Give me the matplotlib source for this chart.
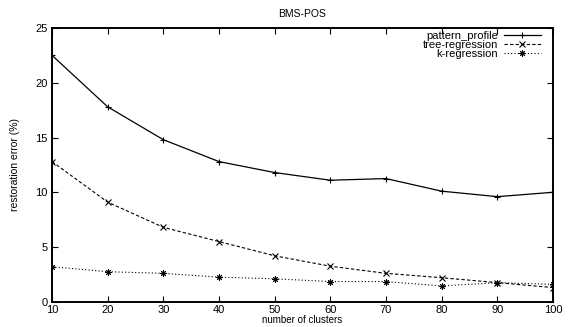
import matplotlib
matplotlib.use("Agg")
import matplotlib.pyplot as plt

plt.rcParams['font.family'] = ['Liberation Sans', 'DejaVu Sans']

# restoration error per number of clusters on BMS-POS
clusters = [10, 20, 30, 40, 50, 60, 70, 80, 90, 100]
pattern_profile = [22.5, 17.8, 14.8, 12.8, 11.8, 11.1, 11.25, 10.1, 9.6, 10.0]
tree_regression = [12.8, 9.1, 6.8, 5.5, 4.2, 3.25, 2.6, 2.2, 1.75, 1.3]
k_regression = [3.2, 2.75, 2.6, 2.25, 2.1, 1.85, 1.85, 1.45, 1.75, 1.6]

x_ticks = [10, 20, 30, 40, 50, 60, 70, 80, 90, 100]
y_ticks = [0, 5, 10, 15, 20, 25]

fig = plt.figure(figsize=(5.71, 3.27), dpi=100)
ax = fig.add_axes([0.0911, 0.077, 0.8774, 0.8375])

ax.plot(clusters, pattern_profile, color='black', lw=0.9, ls='-',
        marker='+', ms=5, mew=0.8, label='pattern_profile')
ax.plot(clusters, tree_regression, color='black', lw=0.8, ls=(0, (3, 2)),
        marker='x', ms=4, mew=0.8, label='tree-regression')
ax.plot(clusters, k_regression, color='black', lw=0.8, ls=(0, (1, 2)),
        marker=(8, 2, 0), ms=4.5, mew=0.7, label='k-regression')

ax.set_xlim(10, 100)
ax.set_ylim(0, 25)
ax.set_xticks(x_ticks)
ax.set_yticks(y_ticks)
ax.tick_params(direction='in', top=True, right=True, length=4, width=0.8,
               labelsize=8, pad=3)
ax.tick_params(axis='x', pad=2.5)
for s in ax.spines.values():
    s.set_linewidth(1.4)

ax.set_title('BMS-POS', fontsize=7.5, pad=8)
ax.set_xlabel('number of clusters', fontsize=7, labelpad=0)
ax.set_ylabel('restoration error (%)', fontsize=7.5, labelpad=11)

ax.legend(loc='upper right', bbox_to_anchor=(0.99, 1.012), frameon=False,
          fontsize=8, markerfirst=False, handlelength=3.4, handletextpad=0.5,
          labelspacing=-0.1, borderaxespad=0.2)

fig.savefig('out.png', dpi=100)
